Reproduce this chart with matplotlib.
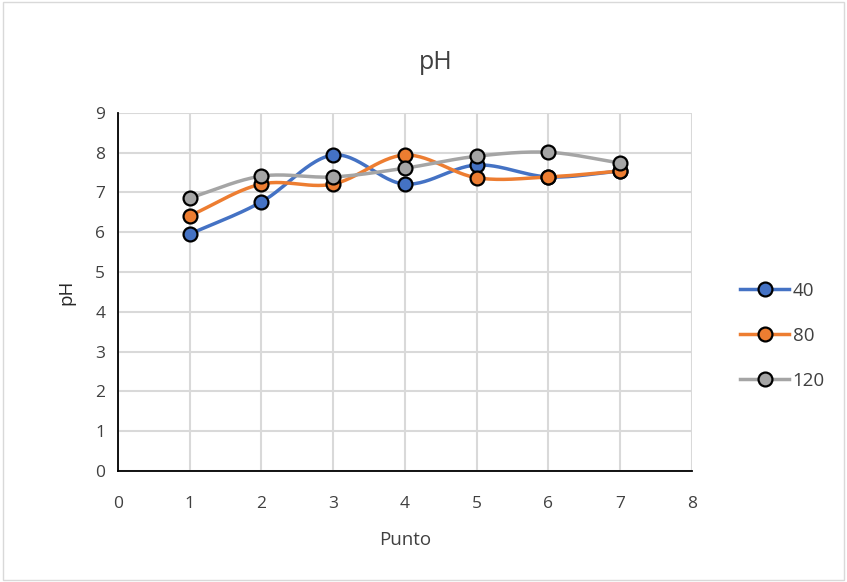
import numpy as np
import matplotlib.pyplot as plt
from matplotlib.patches import Rectangle

plt.rcParams['font.family'] = ['Open Sans', 'DejaVu Sans']

punto = [1, 2, 3, 4, 5, 6, 7]
ph_40 = [5.95, 6.76, 7.94, 7.21, 7.69, 7.39, 7.54]
ph_80 = [6.41, 7.21, 7.21, 7.94, 7.37, 7.39, 7.54]
ph_120 = [6.86, 7.41, 7.39, 7.61, 7.91, 8.01, 7.74]
series = ['40', '80', '120']
colors = ['#4472c4', '#ed7d31', '#a5a5a5']


def smooth(x, y, n=30):
    # Catmull-Rom curve through the points, like Excel's smoothed line
    x = np.asarray(x, float)
    y = np.asarray(y, float)
    px = np.concatenate([[2 * x[0] - x[1]], x, [2 * x[-1] - x[-2]]])
    py = np.concatenate([[2 * y[0] - y[1]], y, [2 * y[-1] - y[-2]]])
    xs, ys = [], []
    t = np.linspace(0, 1, n)
    for i in range(1, len(px) - 2):
        for p, out in ((px, xs), (py, ys)):
            p0, p1, p2, p3 = p[i - 1], p[i], p[i + 1], p[i + 2]
            out.extend(0.5 * (2 * p1 + (-p0 + p2) * t
                              + (2 * p0 - 5 * p1 + 4 * p2 - p3) * t ** 2
                              + (-p0 + 3 * p1 - 3 * p2 + p3) * t ** 3))
    return xs, ys


fig = plt.figure(figsize=(8.47, 5.82), dpi=100)
fig.patches.append(Rectangle((0.004, 0.004), 0.992, 0.992, transform=fig.transFigure,
                             fill=False, edgecolor='#d9d9d9', linewidth=1))
ax = fig.add_axes([0.139, 0.191, 0.678, 0.615])

mk = dict(marker='o', markersize=10, markeredgecolor='black', markeredgewidth=1.6)
for name, vals, c in zip(series, [ph_40, ph_80, ph_120], colors):
    sx, sy = smooth(punto, vals)
    ax.plot(sx, sy, color=c, linewidth=2.5, zorder=3)
    ax.plot(punto, vals, linestyle='none', markerfacecolor=c, zorder=4, **mk)
    ax.plot([], [], color=c, linewidth=2.5, markerfacecolor=c, label=name, **mk)

ax.set_xlim(0, 8)
ax.set_ylim(0, 9)
ax.set_xticks(range(0, 9))
ax.set_yticks(range(0, 10))
ax.grid(True, color='#d9d9d9', linewidth=1.5)
ax.set_axisbelow(True)
for s in ['top', 'right']:
    ax.spines[s].set_visible(False)
for s in ['left', 'bottom']:
    ax.spines[s].set_color('black')
    ax.spines[s].set_linewidth(1.3)
ax.tick_params(length=0, labelsize=12.5, colors='#404040', pad=9)
ax.tick_params(axis='x', pad=18)
ax.set_xlabel('Punto', fontsize=13.5, color='#404040', labelpad=14)
ax.set_ylabel('pH', fontsize=13.5, color='#262626', labelpad=14)
fig.text(0.514, 0.893, 'pH', fontsize=18, color='#404040', ha='center', va='center')

fig.legend(loc='center left', bbox_to_anchor=(0.874, 0.423), frameon=False,
           fontsize=13.5, labelcolor='#404040', handlelength=2.6, labelspacing=1.45,
           handletextpad=0.2, borderaxespad=0, borderpad=0)

fig.savefig('out.png', dpi=100)
